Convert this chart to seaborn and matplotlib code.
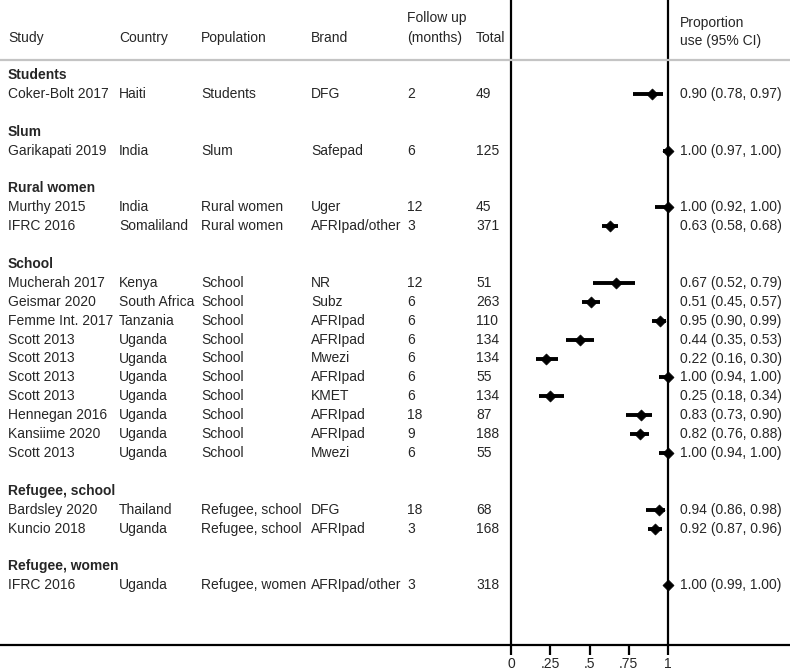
import matplotlib.pyplot as plt
import numpy as np
import pandas as pd
import seaborn as sns

# subgroup headings and which heading each study belongs to
groups = ["Students", "Slum", "Rural women", "School", "Refugee, school", "Refugee, women"]
group_of = [0, 1, 2, 2, 3, 3, 3, 3, 3, 3, 3, 3, 3, 3, 4, 4, 5]

study = ["Coker-Bolt 2017", "Garikapati 2019", "Murthy 2015", "IFRC 2016",
         "Mucherah 2017", "Geismar 2020", "Femme Int. 2017", "Scott 2013",
         "Scott 2013", "Scott 2013", "Scott 2013", "Hennegan 2016",
         "Kansiime 2020", "Scott 2013", "Bardsley 2020", "Kuncio 2018", "IFRC 2016"]
country = ["Haiti", "India", "India", "Somaliland", "Kenya", "South Africa",
           "Tanzania", "Uganda", "Uganda", "Uganda", "Uganda", "Uganda",
           "Uganda", "Uganda", "Thailand", "Uganda", "Uganda"]
population = ["Students", "Slum", "Rural women", "Rural women", "School", "School",
              "School", "School", "School", "School", "School", "School",
              "School", "School", "Refugee, school", "Refugee, school", "Refugee, women"]
brand = ["DFG", "Safepad", "Uger", "AFRIpad/other", "NR", "Subz", "AFRIpad",
         "AFRIpad", "Mwezi", "AFRIpad", "KMET", "AFRIpad", "AFRIpad", "Mwezi",
         "DFG", "AFRIpad", "AFRIpad/other"]
follow_up = [2, 6, 12, 3, 12, 6, 6, 6, 6, 6, 6, 18, 9, 6, 18, 3, 3]
total = [49, 125, 45, 371, 51, 263, 110, 134, 134, 55, 134, 87, 188, 55, 68, 168, 318]
est = [0.90, 1.00, 1.00, 0.63, 0.67, 0.51, 0.95, 0.44, 0.22, 1.00, 0.25, 0.83,
       0.82, 1.00, 0.94, 0.92, 1.00]
lo = [0.78, 0.97, 0.92, 0.58, 0.52, 0.45, 0.90, 0.35, 0.16, 0.94, 0.18, 0.73,
      0.76, 0.94, 0.86, 0.87, 0.99]
hi = [0.97, 1.00, 1.00, 0.68, 0.79, 0.57, 0.99, 0.53, 0.30, 1.00, 0.34, 0.90,
      0.88, 1.00, 0.98, 0.96, 1.00]

# row layout: heading, studies, blank line between groups
rows = []
group_rows = []
r = 0
prev = None
for g in group_of:
    if g != prev:
        if prev is not None:
            r += 1
        group_rows.append(r)
        r += 1
        prev = g
    rows.append(r)
    r += 1

df = pd.DataFrame({"row": rows, "est": est, "lo": lo, "hi": hi})

sns.set_style("white")
plt.rcParams["font.family"] = ["Liberation Sans", "DejaVu Sans"]
fs = 10

fig = plt.figure(figsize=(7.9, 6.7), dpi=100)
ax = fig.add_axes([0, 25 / 670, 1, 645 / 670])

ppu = 157.0   # pixels per unit on the proportion scale
x0 = 511.0    # pixel where 0 sits
rh = 18.9     # pixels per row
top = -75 / rh
ax.set_xlim(-x0 / ppu, (790 - x0) / ppu)
ax.set_ylim(top + 645 / rh, top)


def px(x):
    return (x - x0) / ppu


def py(y):
    return (y - 75) / rh


# frame lines
ax.axvline(0, color="black", lw=1.6, zorder=1)
ax.axvline(1, color="black", lw=1.6, zorder=1)
ax.axhline(py(60), color="#c4c4c4", lw=1.6, zorder=1)

# CIs and point estimates
ax.hlines(df["row"], df["lo"], df["hi"], color="black", lw=2.8, zorder=2)
sns.scatterplot(data=df, x="est", y="row", marker="D", color="black",
                edgecolor="black", s=32, ax=ax, zorder=3, legend=False)

# column headers
cols = [8, 119, 201, 311, 407, 476]
for x, lab in zip(cols, ["Study", "Country", "Population", "Brand", "(months)", "Total"]):
    ax.text(px(x), py(38), lab, va="center", fontsize=fs)
ax.text(px(407), py(18), "Follow up", va="center", fontsize=fs)
ax.text(px(680), py(23), "Proportion", va="center", fontsize=fs)
ax.text(px(680), py(41), "use (95% CI)", va="center", fontsize=fs)

# group headings
for g, gr in zip(groups, group_rows):
    ax.text(px(8), gr, g, va="center", fontsize=fs, fontweight="bold")

# study rows
for i, rr in enumerate(rows):
    vals = [study[i], country[i], population[i], brand[i], str(follow_up[i]), str(total[i])]
    for x, v in zip(cols, vals):
        ax.text(px(x), rr, v, va="center", fontsize=fs)
    ax.text(px(680), rr, f"{est[i]:.2f} ({lo[i]:.2f}, {hi[i]:.2f})",
            va="center", fontsize=fs)

# axis
for s in ["top", "left", "right"]:
    ax.spines[s].set_visible(False)
ax.spines["bottom"].set_color("black")
ax.spines["bottom"].set_linewidth(1.6)
ax.set_xticks([0, 0.25, 0.5, 0.75, 1])
ax.set_xticklabels(["0", ".25", ".5", ".75", "1"], fontsize=fs)
ax.tick_params(axis="x", direction="out", length=7, width=1.6, pad=2,
               color="black", bottom=True)
ax.set_yticks([])
ax.set_xlabel("")
ax.set_ylabel("")

fig.savefig("out.png", dpi=100)
